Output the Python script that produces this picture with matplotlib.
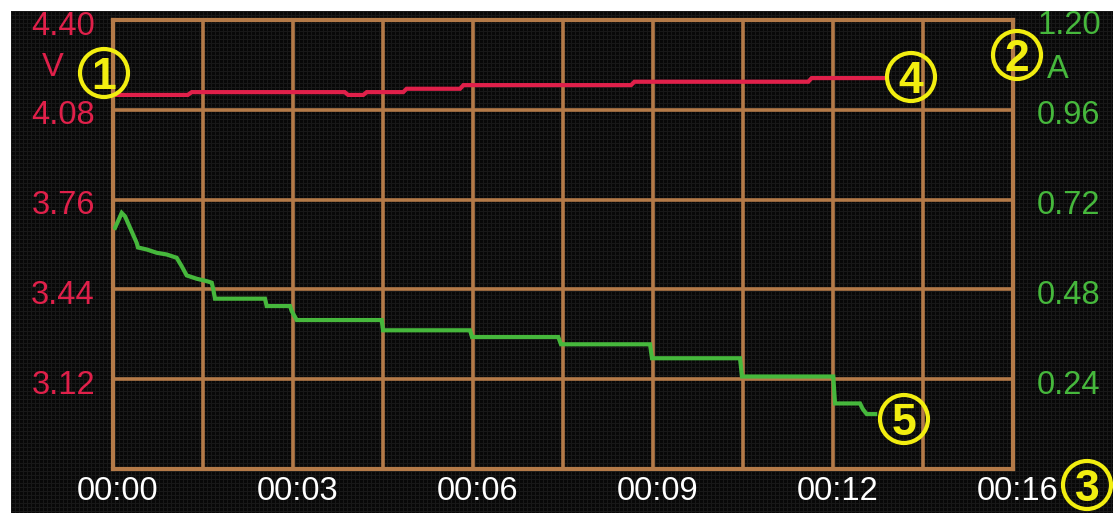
import numpy as np
import matplotlib
matplotlib.use('Agg')
import matplotlib.pyplot as plt
from matplotlib.patches import Ellipse
from matplotlib.transforms import offset_copy

# time axis in minutes
volt_t = [0, 1.33, 1.40, 4.12, 4.18, 4.45, 4.51, 5.16, 5.22, 6.17, 6.23, 9.21, 9.27, 12.36, 12.42, 13.69]
volt_v = [4.133, 4.133, 4.143, 4.143, 4.133, 4.133, 4.143, 4.143, 4.155, 4.155,
          4.168, 4.168, 4.180, 4.180, 4.193, 4.193]

amp_t = [0.036, 0.155, 0.213, 0.421, 0.444, 0.599, 0.777, 0.955, 1.132, 1.221, 1.310,
         1.488, 1.666, 1.755, 1.783, 1.813, 2.702, 2.732, 3.147, 3.177, 3.266,
         4.777, 4.800, 6.347, 6.382, 7.916, 7.964, 9.547, 9.582, 11.147, 11.182,
         12.805, 12.836, 13.280, 13.33, 13.40, 13.55]
amp_a = [0.6445, 0.6845, 0.6755, 0.6045, 0.592, 0.5867, 0.5779, 0.5733, 0.5645, 0.542, 0.5173,
         0.5085, 0.5021, 0.4979, 0.48, 0.4552, 0.4552, 0.4355, 0.4355, 0.4221, 0.3981,
         0.3981, 0.3707, 0.3707, 0.3528, 0.3528, 0.3333, 0.3333, 0.296, 0.296, 0.2472,
         0.2472, 0.1752, 0.1752, 0.16, 0.1467, 0.1467]

x_ticks = [0, 3.2, 6.4, 9.6, 12.8, 16]
x_labels = ['00:00', '00:03', '00:06', '00:09', '00:12', '00:16']
v_ticks = [3.12, 3.44, 3.76, 4.08, 4.40]
v_labels = ['3.12', '3.44', '3.76', '4.08', '4.40']
a_ticks = [0.24, 0.48, 0.72, 0.96, 1.20]
a_labels = ['0.24', '0.48', '0.72', '0.96', '1.20']

W, H = 1113, 513
RED = '#e0204a'
GREEN = '#46b83c'
GRID = '#b47a48'
YELLOW = '#f2ee10'
LABEL_FONT = ['Liberation Sans', 'DejaVu Sans']

fig = plt.figure(figsize=(W / 100, H / 100), dpi=100, facecolor='white')

# dark LCD background with fine pixel texture
bx0, by0 = 11, 11
bg = fig.add_axes([bx0 / W, 0, 1 - bx0 / W, 1 - by0 / H])
hh, ww = H - by0, W - bx0
img = np.full((hh, ww, 3), 8, dtype=np.uint8)
ii, jj = np.indices((hh, ww))
img[(ii % 4 == 0) | (jj % 4 == 0)] = 24
bg.imshow(img, aspect='auto', interpolation='nearest')
bg.set_axis_off()

# plot box in pixels: x 113..1013, y 20..469
L, R, T, B = 113, 1013, 20, 469
ax = fig.add_axes([L / W, (H - B) / H, (R - L) / W, (B - T) / H])
ax.set_facecolor('none')
ax.set_xlim(0, 16)
ax.set_ylim(2.80, 4.40)
ax.set_xticks(np.arange(0, 16.01, 1.6))
ax.set_yticks(np.arange(2.80, 4.401, 0.32))
ax.grid(True, color=GRID, lw=2.6)
ax.tick_params(length=0, labelleft=False, labelbottom=False)
for s in ax.spines.values():
    s.set_color(GRID)
    s.set_linewidth(3)

ax.plot(volt_t, volt_v, color=RED, lw=3, solid_joinstyle='miter', zorder=5)

ax2 = ax.twinx()
ax2.set_ylim(0, 1.2)
ax2.set_axis_off()
ax2.plot(amp_t, amp_a, color=GREEN, lw=3, solid_joinstyle='miter', zorder=5)

# tick labels
lt = offset_copy(ax.get_yaxis_transform(), fig=fig, x=-18, y=-6, units='dots')
for v, lab in zip(v_ticks, v_labels):
    ax.text(0, v, lab, transform=lt, ha='right', va='center', color=RED,
            fontsize=23.5, family=LABEL_FONT)
rt = offset_copy(ax2.get_yaxis_transform(), fig=fig, x=24, y=-6, units='dots')
for a, lab in zip(a_ticks, a_labels):
    ax2.text(1, a, lab, transform=rt, ha='left', va='center', color=GREEN,
             fontsize=23.5, family=LABEL_FONT)
bt = offset_copy(ax.get_xaxis_transform(), fig=fig, x=5, y=-22, units='dots')
for t, lab in zip(x_ticks, x_labels):
    ax.text(t, 0, lab, transform=bt, ha='center', va='center', color='white',
            fontsize=23.5, family=LABEL_FONT)

fig.text(53 / W, 1 - 68 / H, 'V', ha='center', va='center', color=RED,
         fontsize=23.5, family=LABEL_FONT)
fig.text(1058 / W, 1 - 70 / H, 'A', ha='center', va='center', color=GREEN,
         fontsize=23.5, family=LABEL_FONT)

# circled markers
marks = [('1', 104, 73), ('2', 1017, 55), ('3', 1087, 485), ('4', 911, 77), ('5', 904, 419)]
for num, cx, cy in marks:
    fig.add_artist(Ellipse((cx / W, 1 - cy / H), 48 / W, 48 / H, transform=fig.transFigure,
                           fill=False, ec=YELLOW, lw=3, zorder=20))
    fig.text(cx / W, 1 - (cy + 16) / H, num, ha='center', va='baseline', color=YELLOW,
             fontsize=32, fontweight='bold', family=LABEL_FONT, zorder=21)

fig.savefig('out.png', dpi=100, facecolor='white')
